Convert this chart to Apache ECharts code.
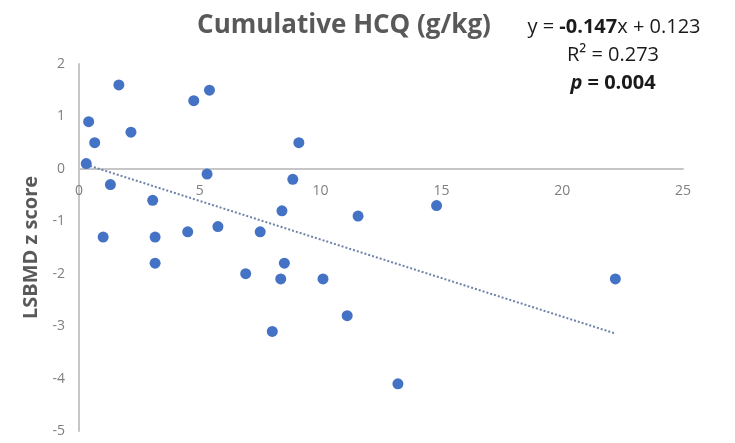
<!DOCTYPE html>
<html>
<head>
<meta charset="utf-8">
<script src="https://cdn.jsdelivr.net/npm/echarts@6/dist/echarts.min.js"></script>
<style>
  html, body { margin: 0; padding: 0; background: #fff; }
  #chart { width: 735px; height: 443px; }
</style>
</head>
<body>
<div id="chart"></div>
<script>
// cumulative HCQ (g/kg) vs LSBMD z score
var hcqDose = [0.4, 0.65, 0.3, 1.65, 2.15, 1.3, 1.0, 3.05, 3.15, 3.15,
               4.75, 5.4, 5.3, 4.5, 5.75, 7.5, 6.9, 8.4, 8.85, 9.1,
               8.5, 8.35, 8.0, 10.1, 11.1, 11.55, 14.8, 13.2, 22.2];
var zScore = [0.9, 0.5, 0.1, 1.6, 0.7, -0.3, -1.3, -0.6, -1.3, -1.8,
              1.3, 1.5, -0.1, -1.2, -1.1, -1.2, -2.0, -0.8, -0.2, 0.5,
              -1.8, -2.1, -3.1, -2.1, -2.8, -0.9, -0.7, -4.1, -2.1];
var slope = -0.147;
var intercept = 0.123;
var xTicks = [0, 5, 10, 15, 20, 25];
var yTicks = [-5, -4, -3, -2, -1, 0, 1, 2];

var points = hcqDose.map(function (x, i) { return [x, zScore[i]]; });
var xLo = Math.min.apply(null, hcqDose);
var xHi = Math.max.apply(null, hcqDose);
var trend = [[xLo, slope * xLo + intercept], [xHi, slope * xHi + intercept]];

var font = '"Open Sans", "Noto Sans", sans-serif';
var chart = echarts.init(document.getElementById('chart'));

var option = {
    animation: false,
    backgroundColor: '#fff',
    textStyle: { fontFamily: font },
    title: {
        text: 'Cumulative HCQ (g/kg)',
        left: 339,
        top: 8,
        textAlign: 'center',
        textStyle: { fontSize: 26, fontWeight: 'bold', color: '#595959', fontFamily: font }
    },
    graphic: [
        {
            type: 'text', x: 614, y: 27,
            style: {
                text: 'y = {b|-0.147}x + 0.123',
                fontSize: 20, fill: '#1a1a1a', fontFamily: font,
                align: 'center', verticalAlign: 'middle',
                rich: { b: { fontSize: 20, fontWeight: 'bold', fill: '#1a1a1a', fontFamily: font } }
            }
        },
        {
            type: 'text', x: 613, y: 55,
            style: {
                text: 'R² = 0.273', fontSize: 20, fill: '#1a1a1a', fontFamily: font,
                align: 'center', verticalAlign: 'middle'
            }
        },
        {
            type: 'text', x: 613, y: 83,
            style: {
                text: '{i|p} = 0.004',
                fontSize: 20, fontWeight: 'bold', fill: '#1a1a1a', fontFamily: font,
                align: 'center', verticalAlign: 'middle',
                rich: { i: { fontSize: 20, fontWeight: 'bold', fontStyle: 'italic', fill: '#1a1a1a', fontFamily: font } }
            }
        }
    ],
    grid: { left: 79, right: 52, top: 64, bottom: 12, containLabel: false, outerBoundsMode: 'none' },
    xAxis: {
        type: 'value',
        min: xTicks[0],
        max: xTicks[xTicks.length - 1],
        interval: 5,
        axisLine: { show: true, onZero: true, lineStyle: { color: '#c6c6c6', width: 2 } },
        axisTick: { show: false },
        splitLine: { show: false },
        axisLabel: { color: '#7f7f7f', fontSize: 14, margin: 15 }
    },
    yAxis: {
        type: 'value',
        min: yTicks[0],
        max: yTicks[yTicks.length - 1],
        interval: 1,
        name: 'LSBMD z score',
        nameLocation: 'middle',
        nameGap: 38,
        nameTextStyle: { fontSize: 20, fontWeight: 'bold', color: '#595959', fontFamily: font },
        axisLine: { show: true, lineStyle: { color: '#c6c6c6', width: 2 } },
        axisTick: { show: false },
        splitLine: { show: false },
        axisLabel: { color: '#7f7f7f', fontSize: 14, margin: 14 }
    },
    series: [
        {
            type: 'line',
            data: trend,
            symbol: 'none',
            lineStyle: { color: '#6f82a8', width: 2, type: [2, 2] },
            z: 1
        },
        {
            type: 'scatter',
            data: points,
            symbolSize: 11,
            itemStyle: { color: '#4472c4', opacity: 1 },
            z: 2
        }
    ]
};
chart.setOption(option);

// x labels sit just under the zero line, like the original
var zeroPx = chart.convertToPixel({ gridIndex: 0 }, [0, 0])[1];
var bottomPx = chart.convertToPixel({ gridIndex: 0 }, [0, yTicks[0]])[1];
chart.setOption({ xAxis: { axisLabel: { margin: 15 - (bottomPx - zeroPx) } } });
</script>
</body>
</html>
